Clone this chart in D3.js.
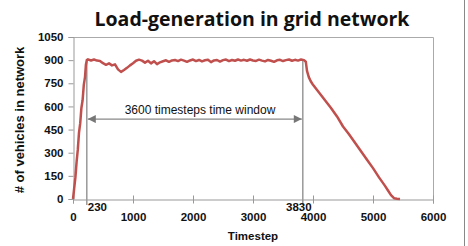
<!DOCTYPE html>
<meta charset="utf-8">
<style>
body { margin: 0; background: #fff; }
text { font-family: "Liberation Sans", Arial, sans-serif; }
.tick-label { font-size: 11.5px; font-weight: bold; fill: #111; }
</style>
<svg width="468" height="246"></svg>
<script src="https://d3js.org/d3.v7.min.js"></script>
<script>

// ---- data ----
var timesteps = [0, 20, 40, 60, 80, 100, 120, 140, 160, 180, 200, 215, 230,
  250, 300, 350, 400, 450, 500, 550, 600, 650, 700, 750, 800, 850, 900, 950,
  1000, 1050, 1100, 1150, 1200, 1250, 1300, 1350, 1400, 1450, 1500, 1550, 1600,
  1650, 1700, 1750, 1800, 1850, 1900, 1950, 2000, 2050, 2100, 2150, 2200, 2250,
  2300, 2350, 2400, 2450, 2500, 2550, 2600, 2650, 2700, 2750, 2800, 2850, 2900,
  2950, 3000, 3050, 3100, 3150, 3200, 3250, 3300, 3350, 3400, 3450, 3500, 3550,
  3600, 3650, 3700, 3750, 3800, 3850, 3880,
  3900, 3930, 3960, 4000, 4100, 4200, 4300, 4400, 4500, 4600, 4700, 4800, 4900,
  5000, 5100, 5200, 5250, 5300, 5350, 5400, 5450];
var vehicles = [0, 70, 140, 240, 320, 430, 490, 590, 640, 740, 790, 870, 900,
  905, 898, 904, 897, 895, 880, 870, 879, 866, 873, 840, 824, 836, 850, 866,
  880, 896, 903, 897, 884, 896, 879, 893, 874, 886, 893, 899, 889,
  898, 901, 894, 903, 897, 889, 898, 904, 894, 901, 892, 899, 903,
  887, 898, 901, 891, 900, 904, 894, 901, 896, 904, 897, 902, 896,
  904, 898, 895, 903, 897, 892, 901, 896, 889, 899, 902, 894, 900,
  904, 896, 902, 897, 904, 900, 890,
  830, 790, 765, 740, 690, 640, 590, 535, 470, 420, 365, 310, 255,
  200, 140, 85, 55, 25, 5, 2, 0];

var xTicks = [0, 1000, 2000, 3000, 4000, 5000, 6000];
var yTicks = [0, 150, 300, 450, 600, 750, 900, 1050];
var windowMarks = [230, 3830];
var windowLabel = "3600 timesteps time window";
var arrowLevel = 518;

var svg = d3.select("svg");

var x = d3.scaleLinear().domain([0, 6000]).range([73, 433]);
var y = d3.scaleLinear().domain([0, 1050]).range([199, 37]);

// outer frame edge on the right
svg.append("line")
   .attr("x1", 464.5).attr("y1", 0)
   .attr("x2", 464.5).attr("y2", 246)
   .attr("stroke", "#888")
   .attr("stroke-width", 1);

// title
svg.append("text")
   .attr("x", 252)
   .attr("y", 26)
   .attr("text-anchor", "middle")
   .style("font-family", "'Open Sans', sans-serif")
   .style("font-size", "19.5px")
   .style("font-weight", "bold")
   .attr("fill", "#111")
   .text("Load-generation in grid network");

// plot frame top + right
svg.append("path")
   .attr("d", "M" + x(0) + "," + (y(1050) + 0.5) + "H" + (x(6000) + 0.5) + "V" + y(0))
   .attr("fill", "none")
   .attr("stroke", "#aaa")
   .attr("stroke-width", 1);

// y axis
var yAxis = d3.axisLeft(y).tickValues(yTicks).tickFormat(d3.format("d")).tickSize(5).tickPadding(5);
var gy = svg.append("g")
   .attr("transform", "translate(" + (x(0) + 0.5) + ",0)")
   .call(yAxis);
gy.select(".domain").attr("stroke", "#999");
gy.selectAll(".tick line").attr("stroke", "#999");
gy.selectAll(".tick text").attr("class", "tick-label");

// x axis, ticks crossing the line
var xAxis = d3.axisBottom(x).tickValues(xTicks).tickFormat(d3.format("d")).tickSize(4).tickPadding(9);
var gx = svg.append("g")
   .attr("transform", "translate(0," + (y(0) + 0.5) + ")")
   .call(xAxis);
gx.select(".domain").attr("stroke", "#999");
gx.selectAll(".tick line").attr("stroke", "#999").attr("y1", -4);
gx.selectAll(".tick text").attr("class", "tick-label");

// window marker lines
svg.selectAll(".wmark")
   .data(windowMarks)
   .enter().append("line")
   .attr("class", "wmark")
   .attr("x1", function(d) { return x(d); })
   .attr("x2", function(d) { return x(d); })
   .attr("y1", y(900))
   .attr("y2", y(0) + 6)
   .attr("stroke", "#999")
   .attr("stroke-width", 1.5);

svg.selectAll(".wlabel")
   .data(windowMarks)
   .enter().append("text")
   .attr("class", "tick-label")
   .attr("x", function(d, i) { return i == 0 ? x(d) + 1 : x(d) - 4; })
   .attr("y", y(0) + 12)
   .attr("text-anchor", function(d, i) { return i == 0 ? "start" : "middle"; })
   .text(function(d) { return d; });

// double arrow for the time window
var defs = svg.append("defs");
defs.append("marker")
   .attr("id", "ahead")
   .attr("viewBox", "0 0 10 10")
   .attr("refX", 10).attr("refY", 5)
   .attr("markerWidth", 10).attr("markerHeight", 8)
   .attr("markerUnits", "userSpaceOnUse")
   .attr("orient", "auto-start-reverse")
   .append("path")
   .attr("d", "M0,0L10,5L0,10Z")
   .attr("fill", "#777");

svg.append("line")
   .attr("x1", x(windowMarks[0]) + 1)
   .attr("x2", x(windowMarks[1]) - 1)
   .attr("y1", y(arrowLevel))
   .attr("y2", y(arrowLevel))
   .attr("stroke", "#888")
   .attr("stroke-width", 1.2)
   .attr("marker-start", "url(#ahead)")
   .attr("marker-end", "url(#ahead)");

svg.append("text")
   .attr("x", 200)
   .attr("y", y(arrowLevel) - 5)
   .attr("text-anchor", "middle")
   .style("font-size", "12px")
   .attr("fill", "#111")
   .text(windowLabel);

// the series
var pts = timesteps.map(function(t, i) { return [t, vehicles[i]]; });
var line = d3.line()
   .x(function(d) { return x(d[0]); })
   .y(function(d) { return y(d[1]); });

svg.append("path")
   .datum(pts)
   .attr("d", line)
   .attr("fill", "none")
   .attr("stroke", "#c0504d")
   .attr("stroke-width", 2.5)
   .attr("stroke-linejoin", "round");

// axis titles
svg.append("text")
   .attr("x", 253)
   .attr("y", 240)
   .attr("text-anchor", "middle")
   .style("font-size", "11.5px")
   .style("font-weight", "bold")
   .attr("fill", "#111")
   .text("Timestep");

svg.append("text")
   .attr("transform", "translate(24,120) rotate(-90)")
   .attr("text-anchor", "middle")
   .style("font-size", "13px")
   .style("font-weight", "bold")
   .attr("fill", "#111")
   .text("# of vehicles in network");

</script>
